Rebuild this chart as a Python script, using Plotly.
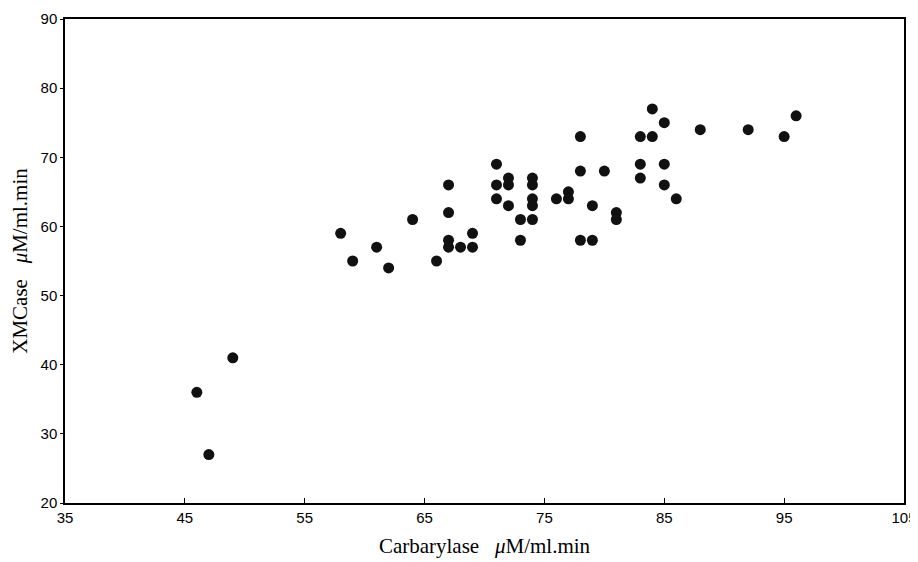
import plotly.graph_objects as go

carbarylase = [46, 47, 49, 58, 59, 61, 62, 64, 66, 67, 67, 67, 67, 68, 69, 69,
               71, 71, 71, 72, 72, 72, 73, 73, 74, 74, 74, 74, 74, 76, 77, 77,
               78, 78, 78, 79, 79, 80, 81, 81, 83, 83, 83, 84, 84, 85, 85, 85,
               86, 88, 92, 95, 96]
xmcase = [36, 27, 41, 59, 55, 57, 54, 61, 55, 66, 62, 58, 57, 57, 57, 59,
          69, 66, 64, 67, 66, 63, 61, 58, 67, 66, 64, 63, 61, 64, 65, 64,
          73, 68, 58, 63, 58, 68, 62, 61, 73, 69, 67, 77, 73, 75, 69, 66,
          64, 74, 74, 73, 76]
x_ticks = [35, 45, 55, 65, 75, 85, 95, 105]
y_ticks = [20, 30, 40, 50, 60, 70, 80, 90]

fig = go.Figure(go.Scatter(
    x=carbarylase, y=xmcase, mode="markers",
    marker=dict(size=11, color="#111111", line=dict(width=0)),
    cliponaxis=False,
))

fig.update_layout(
    width=918, height=562,
    margin=dict(l=57, r=22, t=11, b=67),
    plot_bgcolor="white", paper_bgcolor="white",
    showlegend=False,
    font=dict(family="Liberation Sans, Arial", color="black"),
)
fig.update_xaxes(
    range=[35, 105], tickvals=x_ticks, ticktext=[str(v) for v in x_ticks],
    automargin=False,
    showgrid=False, zeroline=False, showline=True, linecolor="black", linewidth=1.5,
    mirror=True, ticks="inside", ticklen=5, tickwidth=1, tickcolor="black",
    tickfont=dict(size=15, family="Liberation Sans, Arial"),
    title=dict(text="Carbarylase   <i>μ</i>M/ml.min",
               font=dict(size=21, family="Liberation Serif, Times New Roman"),
               standoff=14),
)
fig.update_yaxes(
    range=[20, 90], tickvals=y_ticks, ticktext=[str(v) for v in y_ticks],
    automargin=False,
    showgrid=False, zeroline=False, showline=True, linecolor="black", linewidth=1.5,
    mirror=True, ticks="outside", ticklen=3, tickwidth=1, tickcolor="black",
    tickfont=dict(size=15, family="Liberation Sans, Arial"),
    title=dict(text="XMCase   <i>μ</i>M/ml.min",
               font=dict(size=21, family="Liberation Serif, Times New Roman"),
               standoff=9),
)

fig.write_html("out.html")
